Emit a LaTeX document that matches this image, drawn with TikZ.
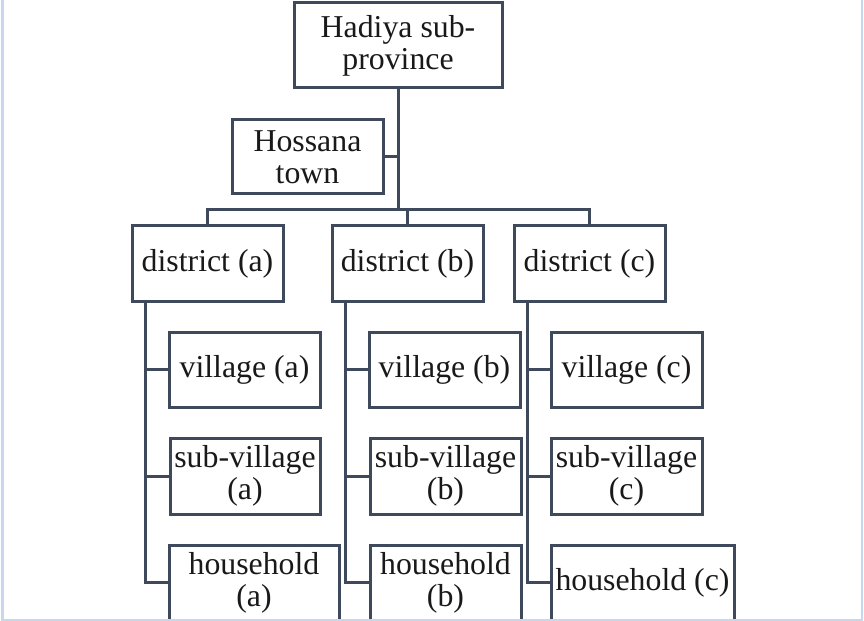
\documentclass[tikz,border=0pt]{standalone}
\usepackage{fontspec}
\setmainfont{Liberation Serif}
\definecolor{boxline}{RGB}{62,74,92}
\definecolor{framecol}{RGB}{200,216,236}
\tikzset{
  unit/.style={draw=boxline, line width=3bp, fill=white, inner sep=0pt,
    align=center, minimum width=151bp, minimum height=75bp,
    text=black!90, font=\fontsize{31.8bp}{32bp}\selectfont},
  link/.style={draw=boxline, line width=3bp},
}
\begin{document}
\begin{tikzpicture}[x=1bp,y=-1bp]
        \useasboundingbox (0,0) rectangle (864,621);
        \clip (0,0) rectangle (864,621);

        % top of the tree
        \node[unit, minimum width=208bp, minimum height=85bp] (hadiya) at (398,45.5) {Hadiya sub-\\province};
        \node[unit, minimum height=74bp] (hossana) at (307.5,157) {Hossana\\town};
        \coordinate (bus) at (398,210);

        % districts
        \node[unit] (distA) at (207.5,263.5) {district (a)};
        \node[unit] (distB) at (407.5,263.5) {district (b)};
        \node[unit] (distC) at (589.5,263.5) {district (c)};

        % villages, sub-villages, households
        \node[unit] (villA) at (244.5,369.5) {village (a)};
        \node[unit] (villB) at (444.5,369.5) {village (b)};
        \node[unit] (villC) at (626.5,369.5) {village (c)};

        \node[unit, minimum width=150bp, minimum height=76bp] (subA) at (245,476) {sub-village\\(a)};
        \node[unit, minimum height=76bp] (subB) at (445.5,476) {sub-village\\(b)};
        \node[unit, minimum height=76bp] (subC) at (626.5,476) {sub-village\\(c)};

        \node[unit, minimum width=170bp] (houseA) at (254,582.5) {household\\(a)};
        \node[unit] (houseB) at (445.5,582.5) {household\\(b)};
        \node[unit, minimum width=183bp] (houseC) at (642.5,582.5) {household (c)};

        % connectors
        \draw[link] (hadiya.south) -- (bus);
        \draw[link] (hossana.east) -- (hossana.east -| hadiya.south);
        \draw[link] (distA.north) |- (bus) -| (distC.north);
        \draw[link] (distB.north) -- (distB.north |- bus);

        \foreach \d in {A,B,C}
        {
            \coordinate (spine\d) at ([xshift=15bp]dist\d.south west);
            \draw[link] (spine\d) |- (house\d.west);
            \draw[link] (vill\d.west) -- (vill\d.west -| spine\d);
            \draw[link] (sub\d.west) -- (sub\d.west -| spine\d);
        }

        % frame
        \draw[framecol, line width=2bp] (2.5,0) -- (2.5,619.5) -- (862,619.5) -- (862,0);
    \end{tikzpicture}
\end{document}
